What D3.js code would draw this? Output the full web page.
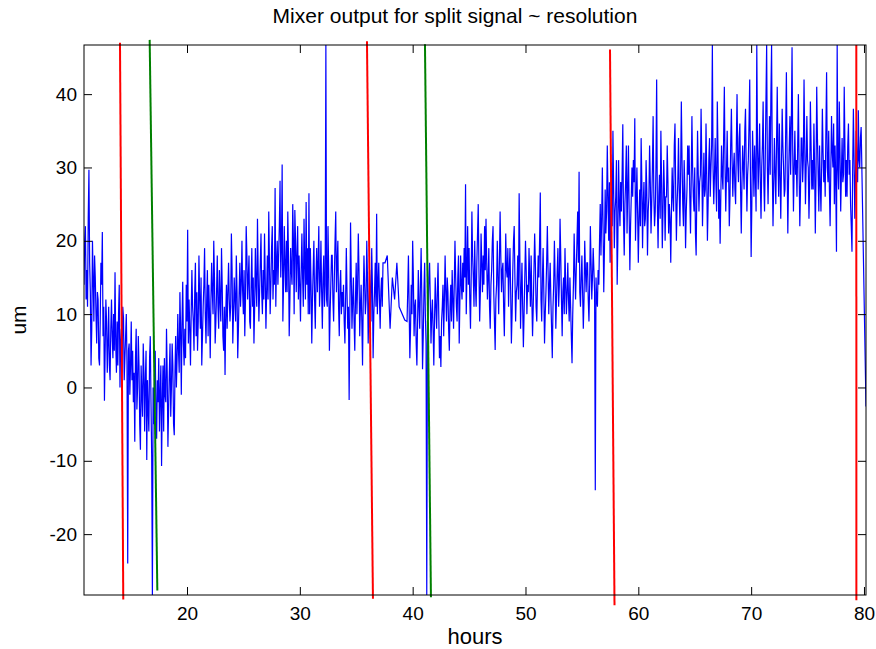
<!DOCTYPE html>
<html><head><meta charset="utf-8">
<script src="https://cdn.jsdelivr.net/npm/d3@7"></script>
<style>body{margin:0;background:#fff}svg{display:block}text{font-family:"Liberation Sans",Arial,Helvetica,sans-serif}</style>
</head><body><svg id="c" width="876" height="649"></svg>
<script>
const titleText = "Mixer output for split signal ~ resolution";
const xLabel = "hours";
const yLabel = "um";
const xTicks = [20, 30, 40, 50, 60, 70, 80];
const yTicks = [-20, -10, 0, 10, 20, 30, 40];
const xDomain = [10.87, 80.18];
const yDomain = [-28.3, 46.7];
const sampleStep = 0.0625;

// blue signal, first stretch (hours 10.87 .. 37.37), one row per hour
const segAStart = 10.87;
const segAValues = [
  14, 20, 22, 12, 16, 11, 23, 29.7, 17, 13, 3, 8, 20, 15, 9, 18,
  15, 10, 6, 13, 12, 4, 3, 9, 17, 14, 21.2, 7, 11, -1.8, 5, 12,
  9, 2, 6, 11, 3, 1, 8, 12, 7, 4, 10, 5, 15.7, 6, 2, 9,
  3, 10, 14, 0, 6, 8, 2, 11, 9.5, 1, 4, 7, 10, 3, -24, 5,
  6, -1, 3, 9, 1, 5, -2, 2, -7.4, 4, 8, -3, 0, 7, 3, -5,
  -8.5, 3, -1, -4, 6, 2, -6, 1, 5, -9.9, 1, -3, -6, 4, 7, -2,
  -9.6, -28.3, 0, -5, 2, 5, -3, -7, 1, -2, 4, -6, -1, 3, -10.7, -2,
  3, -6, 4, -1, -2, 8, 2, -8.1, -3, 2, 6, -4, 0, 6, 3, -5,
  -6.5, 2, 7, 0, 4, 10, 5, 2, 13, 8, -1, 9, 14.4, 6, 3, 8,
  4, 14, 9, 21.5, 6, 12, 8, 3, 10, 16, 11, 9, 5, 13, 17, 7,
  13, 5, 9, 18, 12, 8, 15, 3, 7, 11, 14, 19, 10, 6, 12, 16,
  7, 14, 10, 4, 12, 17, 13, 10, 20, 15, 6, 9, 13, 18, 11, 8,
  16, 12, 9, 19, 14, 7, 5, 11, 1.7, 10, 14, 8, 13, 17, 12, 9,
  11, 21, 16, 6, 10, 15, 12, 9, 18, 13, 4, 8, 13, 17, 11, 14,
  20, 13, 10, 16, 7, 12, 22, 18, 12, 15, 18, 9, 8, 14, 19, 11,
  15, 6, 11, 19, 14, 11, 23, 16, 9, 13, 17, 21, 13, 10, 16, 12,
  21, 15, 8, 13, 18, 12, 24, 17, 10, 14, 19, 22, 12, 16, 14, 27.2,
  11, 17, 20, 14, 18, 22, 28.2, 15, 19, 30.4, 9, 14, 22, 17, 13, 20,
  13, 24, 18, 7, 12, 19, 16, 14, 25, 20, 10, 24.2, 20, 13, 18, 22,
  12, 18, 14, 9, 16, 21, 15, 11, 23, 17, 12, 25.3, 14, 19, 10, 26.5,
  10, 19, 14, 6, 12, 16, 20, 12, 8, 15, 19, 13, 17, 22, 11, 14,
  20, 13, 8, 15, 18, 11, 14, 46.7, 12, 11, 22, 16, 5, 10, 14, 18,
  18, 12, 9, 15, 20, 24, 13, 17, 20, 11, 7, 14, 16, 10, 13, 11,
  14, 9, 6, 12, 19, 13, 8, 11, -1.7, 10, 22.5, 15, 8, 12, 15, 9,
  5, 12, 17, 10, 14, 21, 16, 7, 11, 14, 9, 3, 12, 18, 14, 10,
  12, 20, 15, 6, 11, 16, 13, 9, 19, 14, 4, 10, 13, 17, 11, 23.7,
  10, 14, 17, 12, 8, 13, 15, 11, 17
];
// sparse samples in the gap
const gapHours = [37.55, 37.75, 38.0, 38.2, 38.4, 38.6, 38.8, 39.3];
const gapValues = [17, 18, 8, 15, 12, 17, 11, 9.2];

// blue signal, second stretch (hours 39.5 .. 79.75), one row per hour
const segBStart = 39.5;
const segBValues = [
  9, 13, 18, 11, 4, 8, 14, 10, 20, 15, 7, 11, 12, 6, 3, 9,
  16, 11, 8, 14, 19, 12, 2.5, 7, 13, 17, 10, 6, -28.3, 9, 10, 15,
  17, 12, 6, 10, 12, 8, 3, 9, 15, 11, 8, 13, 17, 10, 4, 7,
  2.8, 9, 11, 14, 7, 12, 18, 13, 9, 15, 13, 8, 5, 11, 14, 9,
  16, 12, 8, 14, 20, 15, 11, 9, 15, 18, 6, 12, 18, 14, 12, 17,
  13, 19, 15, 27.7, 10, 16, 22, 14, 19, 12, 8, 15, 24, 18, 15, 11,
  20, 14, 11, 17, 21, 25, 16, 9, 13, 21, 17, 13, 18, 14, 22, 16,
  23, 17, 12, 15, 19, 11, 8, 14, 16, 20, 22, 13, 9, 5.1, 12, 14,
  20, 15, 10, 17, 24, 18, 13, 16, 17, 11, 7, 14, 21, 16, 15, 19,
  11, 16, 19, 13, 6, 10, 16, 20, 22, 15, 9, 13, 14, 18, 12, 26.5,
  18, 8, 13, 17, 11, 5.5, 10, 15, 20, 16, 10, 14, 13, 19, 15, 11,
  18, 12, 7, 11, 16, 21, 17, 11, 9, 14, 18, 15, 20, 26.6, 12, 9,
  15, 19, 13, 6, 10, 13, 17, 22, 16, 10, 14, 17, 12, 8, 4, 11,
  14, 20, 15, 8, 12, 16, 19, 11, 14, 23, 18, 12, 7, 13, 15, 10,
  19, 14, 10, 13, 17, 12, 9, 15, 11, 7, 3.3, 10, 14, 21, 16, 12,
  16, 20, 24, 17, 29.4, 13, 11, 15, 18, 13, 8, 12, 20, 16, 13, 17,
  17, 12, 9, 14, 22, 17, 12, 15, 19, 16, 13, -14, 15, 12, 11, 16,
  14, 20, 25, 18, 23, 30, 22, 13, 19, 27, 21, 24, 33, 26, 20, 28,
  17, 23, 29, 22, 35, 27, 19, 24, 26, 31, 14, 20, 31, 25, 22, 28,
  24, 29, 35.9, 23, 18, 25, 28, 33, 21, 27, 33, 24, 16, 22, 26, 30,
  26, 31, 28, 36.7, 20, 25, 30, 24, 17, 23, 27, 22, 34, 28, 19, 25,
  28, 22, 23, 31, 27, 18, 24, 26, 33, 28, 21, 25, 30, 37, 26, 22,
  24, 30, 42, 25, 19, 26, 29, 23, 35, 28, 19, 24, 31, 27, 20, 26,
  26, 33, 28, 21, 25, 23, 17, 24, 30, 26, 24, 33, 36, 27, 20, 25,
  28, 34, 27, 22, 29, 39, 31, 25, 22, 31, 27, 19, 24, 27, 33, 29,
  33, 26, 21, 28, 37, 30, 26, 24, 30, 21, 18, 27, 35, 29, 24, 28,
  29, 38, 31, 22, 27, 32, 26, 27, 36, 29, 20, 25, 31, 34, 26, 30,
  33, 46.7, 30, 25, 29, 34, 28, 24, 39, 32, 23, 27, 19.6, 26, 33, 29,
  27, 34, 41, 30, 24, 29, 35, 28, 30, 22, 26, 33, 38, 31, 26, 30,
  32, 27, 25, 33, 40, 31, 28, 34, 36, 27, 21, 28, 33, 30, 27, 35,
  38, 30, 24, 29, 31, 36, 42, 29, 17.8, 25, 35, 31, 26, 33, 29, 24,
  46.7, 33, 27, 31, 36, 28, 23, 30, 33, 39, 28, 24, 31, 39, 46.7, 30,
  25, 31, 37, 29, 40, 46.7, 30, 22, 28, 34, 29, 25, 33, 41, 32, 26,
  36, 29, 23, 30, 38, 33, 30, 26, 27, 35, 43, 31, 21, 28, 33, 37,
  29, 36, 46.4, 32, 24, 30, 35, 29, 31, 26, 33, 40, 30, 22, 27, 34,
  34, 28, 31, 42, 33, 25, 30, 37, 31, 30, 23, 28, 39, 33, 27, 31,
  27, 36, 30, 21, 29, 41, 34, 29, 24, 33, 28, 24, 30, 38, 32, 28,
  31, 26, 35, 43, 30, 28, 35, 27, 22, 30, 37, 32, 30, 36, 25, 33,
  28, 18.5, 46.7, 30, 27, 39, 32, 24, 29, 34, 28, 29, 41, 33, 26, 31,
  26, 33, 36, 29, 31, 25, 22, 18.5, 30, 38, 31, 23, 29, 35, 31, 28,
  37.8, 31, 30, 34, 35.5
];
const tailHours = [80.18];
const tailValues = [-2.6];

// marker lines [hour top, value top, hour bottom, value bottom]
const redLines = [
  [14.06, 47.0, 14.35, -28.9],
  [35.95, 47.2, 36.48, -28.8],
  [57.49, 46.1, 57.89, -29.7],
  [79.32, 46.7, 79.33, -29.0]
];
const greenLines = [
  [16.69, 47.4, 17.37, -27.7],
  [41.09, 46.8, 41.62, -28.6]
];

const W = 876, H = 649;
const m = {left: 84, right: 10, top: 45, bottom: 54};
const svg = d3.select("#c");
const x = d3.scaleLinear().domain(xDomain).range([m.left, W - m.right]);
const y = d3.scaleLinear().domain(yDomain).range([H - m.bottom, m.top]);

const pts = [];
segAValues.forEach((v, i) => pts.push([segAStart + i * sampleStep, v]));
gapHours.forEach((h, i) => pts.push([h, gapValues[i]]));
segBValues.forEach((v, i) => pts.push([segBStart + i * sampleStep, v]));
tailHours.forEach((h, i) => pts.push([h, tailValues[i]]));

svg.append("defs").append("clipPath").attr("id", "clip")
  .append("rect").attr("x", m.left).attr("y", m.top)
  .attr("width", W - m.left - m.right).attr("height", H - m.top - m.bottom);

const line = d3.line().x(d => x(d[0])).y(d => y(d[1]));
svg.append("path").datum(pts).attr("clip-path", "url(#clip)")
  .attr("fill", "none").attr("stroke", "#0000ff").attr("stroke-width", 1.2)
  .attr("d", line);

const seg = (arr, color) => svg.append("g").selectAll("line").data(arr).join("line")
  .attr("x1", d => x(d[0])).attr("y1", d => y(d[1]))
  .attr("x2", d => x(d[2])).attr("y2", d => y(d[3]))
  .attr("stroke", color).attr("stroke-width", 2);
seg(redLines, "#ff0000");
seg(greenLines, "#008000");

const tl = 8;
const fmt = d => String(d);
const gx = svg.append("g").attr("transform", `translate(0,${H - m.bottom})`)
  .call(d3.axisBottom(x).tickValues(xTicks).tickSize(-tl).tickPadding(12).tickFormat(fmt));
const gxt = svg.append("g").attr("transform", `translate(0,${m.top})`)
  .call(d3.axisTop(x).tickValues(xTicks).tickSize(-tl).tickFormat(""));
const gy = svg.append("g").attr("transform", `translate(${m.left},0)`)
  .call(d3.axisLeft(y).tickValues(yTicks).tickSize(-tl).tickPadding(7).tickFormat(fmt));
const gyr = svg.append("g").attr("transform", `translate(${W - m.right},0)`)
  .call(d3.axisRight(y).tickValues(yTicks).tickSize(-tl).tickFormat(""));
[gx, gxt, gy, gyr].forEach(g => {
  g.select(".domain").remove();
  g.selectAll(".tick line").attr("stroke", "#000");
  g.selectAll("text").attr("font-size", 19).attr("fill", "#000")
    .style("font-family", '"Liberation Sans", Arial, sans-serif');
});
svg.append("rect").attr("x", m.left).attr("y", m.top)
  .attr("width", W - m.left - m.right).attr("height", H - m.top - m.bottom)
  .attr("fill", "none").attr("stroke", "#000").attr("stroke-width", 1);

svg.append("text").attr("x", 455).attr("y", 22.5)
  .attr("text-anchor", "middle").attr("font-size", 21).text(titleText);
svg.append("text").attr("x", (m.left + W - m.right) / 2).attr("y", 644)
  .attr("text-anchor", "middle").attr("font-size", 22).text(xLabel);
svg.append("text").attr("transform", `translate(26,${(m.top + H - m.bottom) / 2}) rotate(-90)`)
  .attr("text-anchor", "middle").attr("font-size", 21).text(yLabel);
</script></body></html>
